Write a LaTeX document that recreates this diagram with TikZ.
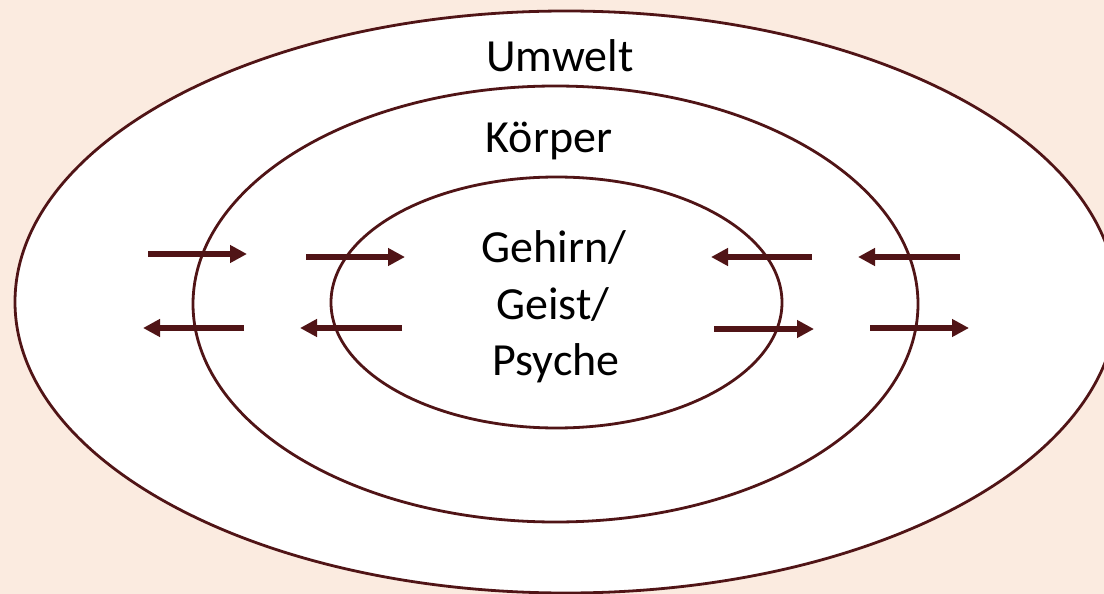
\documentclass[tikz,border=0pt]{standalone}
\usepackage{fontspec}
\setmainfont{Carlito}
\usetikzlibrary{shapes.geometric,arrows.meta}
\definecolor{bgpeach}{RGB}{251,235,224}
\definecolor{maroon}{RGB}{80,20,22}
\tikzset{
  ring/.style={ellipse, draw=maroon, line width=2.8pt, fill=white, inner sep=0pt},
  label/.style={anchor=base, font=\fontsize{46}{55}\selectfont, text=black, inner sep=0pt},
  flow/.style={draw=maroon, line width=6pt, -{Triangle[length=17pt,width=17pt]}}
}
\begin{document}
\begin{tikzpicture}[x=1pt,y=-1pt]
\useasboundingbox (0,0) rectangle (1104,594);
\fill[bgpeach] (0,0) rectangle (1104,594);
\node[ring, minimum width=1102pt, minimum height=582pt] (outer) at (566,302) {};
\node[ring, minimum width=725pt, minimum height=436pt] (middle) at (555.5,304) {};
\node[ring, minimum width=451pt, minimum height=251pt] (inner) at (556.5,302.5) {};
\node[label] (umwelt) at (560,72) {Umwelt};
\node[label] (koerper) at (549,152) {Körper};
\node[label] (gehirn) at (554,262) {Gehirn/};
\node[label] (geist) at (553,319) {Geist/};
\node[label] (psyche) at (556,375) {Psyche};
% arrow end points
\coordinate (a1s) at (148,254); \coordinate (a1e) at (247,254);
\coordinate (a2s) at (244,328); \coordinate (a2e) at (143,328);
\coordinate (a3s) at (306,257); \coordinate (a3e) at (405,257);
\coordinate (a4s) at (402,328); \coordinate (a4e) at (300,328);
\coordinate (a5s) at (812,257); \coordinate (a5e) at (711,257);
\coordinate (a6s) at (714,329); \coordinate (a6e) at (814,329);
\coordinate (a7s) at (960,257); \coordinate (a7e) at (858,257);
\coordinate (a8s) at (870,328); \coordinate (a8e) at (969,328);
\draw[flow] (a1s) -- (a1e);
\draw[flow] (a2s) -- (a2e);
\draw[flow] (a3s) -- (a3e);
\draw[flow] (a4s) -- (a4e);
\draw[flow] (a5s) -- (a5e);
\draw[flow] (a6s) -- (a6e);
\draw[flow] (a7s) -- (a7e);
\draw[flow] (a8s) -- (a8e);
\end{tikzpicture}
\end{document}
